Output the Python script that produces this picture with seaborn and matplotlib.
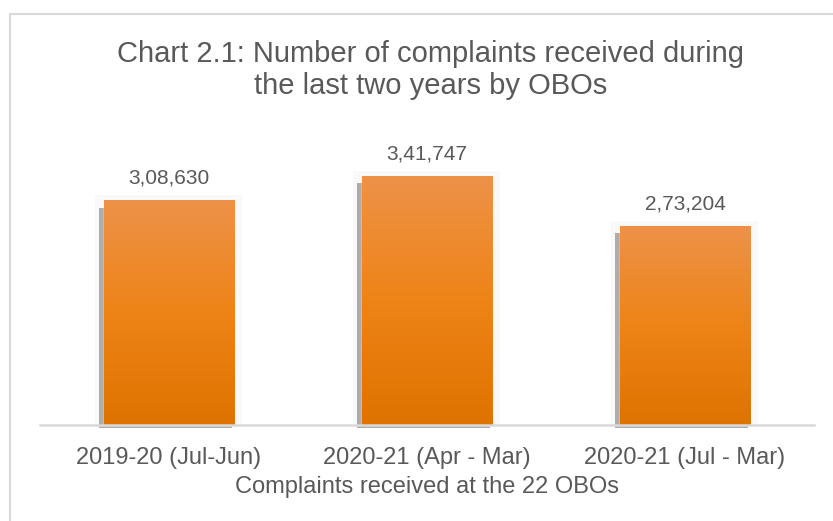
import matplotlib
matplotlib.use("Agg")
import matplotlib.pyplot as plt
import seaborn as sns
import numpy as np
import pandas as pd
from matplotlib.colors import LinearSegmentedColormap
from matplotlib.patches import Rectangle
from matplotlib.lines import Line2D

# Chart data
periods = ["2019-20 (Jul-Jun)", "2020-21 (Apr - Mar)", "2020-21 (Jul - Mar)"]
complaints = [308630, 341747, 273204]
value_labels = ["3,08,630", "3,41,747", "2,73,204"]

df = pd.DataFrame({"Period": periods, "Complaints": complaints})

sns.set_theme(style="white")
plt.rcParams["font.family"] = ["Liberation Sans", "DejaVu Sans"]
text_grey = "#595959"

fig = plt.figure(figsize=(8.33, 5.21), dpi=100)
ax = fig.add_axes([40 / 833, 96 / 521, 774 / 833, 291.6 / 521])

sns.barplot(data=df, x="Period", y="Complaints", color="#EE8417", width=0.505,
            ax=ax, saturation=1, zorder=3)
ax.set_ylim(0, 400000)
ax.set_xlim(-0.5, 2.5)

# orange vertical gradient like the original bars
grad = LinearSegmentedColormap.from_list("bar", ["#DF7300", "#EE8417", "#ED9249"])
px_x = 1 / 258.0
px_y = 400000 / 291.6
for bar, lab in zip(ax.patches, value_labels):
    x0, w, h = bar.get_x(), bar.get_width(), bar.get_height()
    # soft glow and grey shadow behind the bar
    ax.add_patch(Rectangle((x0 - 9 * px_x, 0), w + 17 * px_x, h + 5 * px_y,
                           facecolor="#F9F9F9", edgecolor="none", zorder=1, clip_on=False))
    ax.add_patch(Rectangle((x0 - 5 * px_x, -2.5 * px_y), w + 3 * px_x, h - 5 * px_y,
                           facecolor="#ADADAD", edgecolor="none", zorder=2, clip_on=False))
    img = ax.imshow(np.linspace(0, 1, 256).reshape(-1, 1), cmap=grad, aspect="auto",
                    origin="lower", extent=[x0, x0 + w, 0, h], zorder=4)
    img.set_clip_path(bar)
    ax.text(x0 + w / 2, h + 22 * px_y, lab, ha="center", va="center",
            fontsize=15, color=text_grey)
ax.set_xlim(-0.5, 2.5)
ax.set_ylim(0, 400000)

for s in ["top", "left", "right"]:
    ax.spines[s].set_visible(False)
ax.spines["bottom"].set_color("#D9D9D9")
ax.spines["bottom"].set_linewidth(1.8)
ax.spines["bottom"].set_zorder(5)
ax.set_yticks([])
ax.set_ylabel("")
ax.tick_params(axis="x", length=0, pad=16, labelsize=17, labelcolor=text_grey)
ax.set_xlabel("Complaints received at the 22 OBOs", fontsize=17, color=text_grey, labelpad=5)

fig.text(431 / 833, 1 - 70 / 521,
         "Chart 2.1: Number of complaints received during\nthe last two years by OBOs",
         ha="center", va="center", fontsize=21, color=text_grey, linespacing=1.22)

# chart area border (left and top edges visible)
fig.add_artist(Line2D([10 / 833, 10 / 833], [0, 1 - 14 / 521], color="#D9D9D9", lw=1.5,
                      transform=fig.transFigure))
fig.add_artist(Line2D([10 / 833, 1], [1 - 14 / 521, 1 - 14 / 521], color="#D9D9D9", lw=1.5,
                      transform=fig.transFigure))

fig.savefig("out.png", dpi=100)
